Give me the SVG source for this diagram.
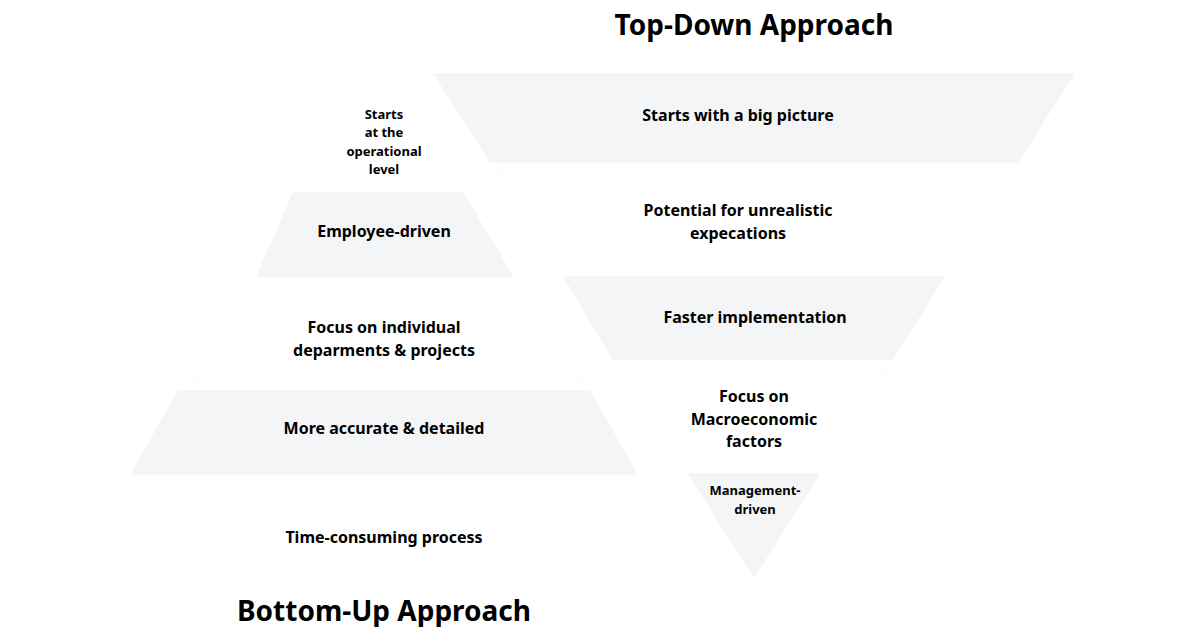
<svg xmlns="http://www.w3.org/2000/svg" width="1200" height="627" viewBox="0 0 1200 627">
<style>
.g{fill:#f4f5f7}
.w{fill:#fff;stroke:#f9fafb;stroke-width:1}
text{font-family:"Noto Sans","Open Sans",sans-serif;font-weight:bold;fill:#000;text-anchor:middle}
.t{font-size:16px}
.s{font-size:13px}
.h{font-size:28px}
</style>
<rect width="1200" height="627" fill="#fff"/>
<text class="h" x="754" y="35">Top-Down Approach</text>
<text class="h" x="384" y="621">Bottom-Up Approach</text>
<g id="bu1"><polygon class="w" points="385,95 470,185 300,185"/><text class="s" x="384" y="119">Starts</text><text class="s" x="384" y="137">at the</text><text class="s" x="384" y="156">operational</text><text class="s" x="384" y="174">level</text></g>
<g id="bu2"><polygon class="g" points="293,192 463,192 514,277 256,277"/><text class="t" x="384" y="237">Employee-driven</text></g>
<g id="bu3"><polygon class="w" points="245,285 525,285 585,383 190,383"/><text class="t" x="384" y="333">Focus on individual</text><text class="t" x="384" y="356">deparments &amp; projects</text></g>
<g id="bu4"><polygon class="g" points="178,390 590,390 638,475 130,475"/><text class="t" x="384" y="434">More accurate &amp; detailed</text></g>
<g id="bu5"><polygon class="w" points="125,488 645,488 690,580 85,580"/><text class="t" x="384" y="543">Time-consuming process</text></g>
<g id="td1"><polygon class="g" points="433,73 1075,73 1018,163 490,163"/><text class="t" x="738" y="121">Starts with a big picture</text></g>
<g id="td2"><polygon class="w" points="495,170 1013,170 955,268 555,268"/><text class="t" x="738" y="216">Potential for unrealistic</text><text class="t" x="738" y="239">expecations</text></g>
<g id="td3"><polygon class="g" points="563,276 945,276 893,360 613,360"/><text class="t" x="755" y="323">Faster implementation</text></g>
<g id="td4"><polygon class="w" points="620,368 888,368 830,465 680,465"/><text class="t" x="754" y="402">Focus on</text><text class="t" x="754" y="425">Macroeconomic</text><text class="t" x="754" y="447">factors</text></g>
<g id="td5"><polygon class="g" points="687,473 821,473 754,578"/><text class="s" x="755" y="495">Management-</text><text class="s" x="755" y="514">driven</text></g>
<g id="connectors"/>
</svg>
